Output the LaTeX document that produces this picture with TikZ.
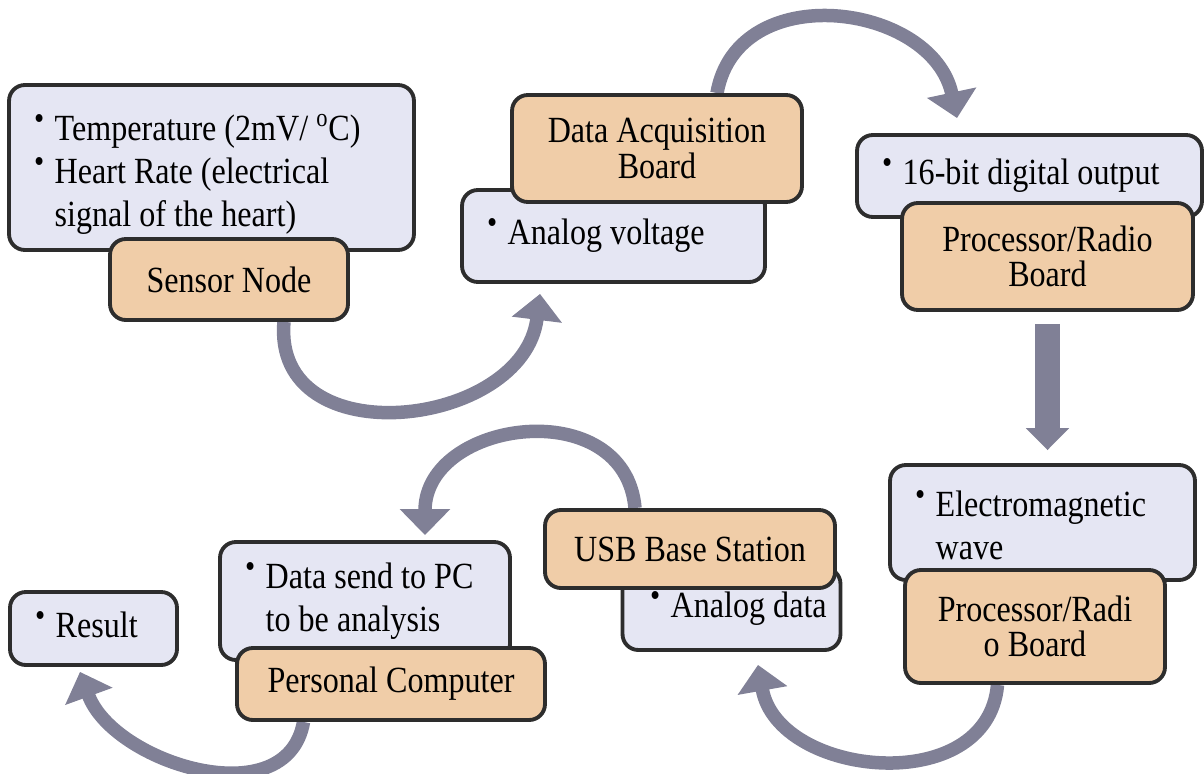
\documentclass[tikz,border=0pt]{standalone}
\usepackage{fontspec}
\setmainfont{Liberation Serif}[FakeStretch=0.87]
\usepackage{tikz}
\usetikzlibrary{positioning, arrows.meta, calc, backgrounds}

\definecolor{infoblue}{RGB}{229,230,243}
\definecolor{boardtan}{RGB}{240,205,168}
\definecolor{flowgray}{RGB}{128,128,150}
\definecolor{edgedark}{RGB}{45,45,45}

\newcommand{\bul}{\raisebox{0.3em}{\scalebox{0.9}{\textbullet}}}
\newcommand{\itemlist}[1]{{\spaceskip0pt\xspaceskip0pt\begin{tabular}{@{}l@{\hspace{6pt}}l@{}}#1\end{tabular}}}
\newcommand{\lowered}[1]{\raisebox{-4pt}[\height][\depth]{#1}}

\begin{document}
\begin{tikzpicture}[
x=0.02cm, y=0.02cm,
    infobox/.style={rectangle, draw=edgedark, line width=2.2pt, fill=infoblue, rounded corners=9pt, inner xsep=0.5cm, inner ysep=0pt, align=left, font=\fontsize{21}{24.5}\selectfont},
    board/.style={rectangle, draw=edgedark, line width=2.2pt, fill=boardtan, rounded corners=9pt, inner sep=0pt, align=center, font=\fontsize{21}{20}\selectfont},
    flow/.style={draw=flowgray, line width=0.27cm, -{Triangle[width=0.98cm, length=0.52cm]}}
]
    \useasboundingbox (0,0) rectangle (1204,-774);

    % Sensor node
    \node[infobox, text width=7.1cm, minimum height=3.3cm] (sensinfo) at (211.5,-167.5)
        {\lowered{\itemlist{\bul & Temperature (2mV/ \textsuperscript{o}C)\\ \bul & Heart Rate (electrical\\ & signal of the heart)}}};
    \node[board, minimum width=4.76cm, minimum height=1.62cm] (sensnode) at (229,-279.5) {Sensor Node};

    % Data acquisition board
    \node[infobox, text width=5.06cm, minimum height=1.84cm] (daqinfo) at (613.5,-236)
        {\itemlist{\bul & Analog voltage}};
    \node[board, minimum width=5.8cm, minimum height=2.14cm] (daqboard) at (657,-148.5) {Data Acquisition\\ Board};

    % Processor/radio board (sender)
    \node[infobox, text width=5.9cm, minimum height=1.64cm] (procinfo) at (1029.5,-176)
        {\itemlist{\bul & 16-bit digital output}};
    \node[board, minimum width=5.82cm, minimum height=2.14cm] (procboard) at (1047.5,-256.5) {Processor/Radio\\ Board};

    % Processor/radio board (receiver)
    \node[infobox, text width=5.1cm, minimum height=2.3cm] (emwinfo) at (1042.5,-522.5)
        {\lowered{\itemlist{\bul & Electromagnetic\\ & wave}}};
    \node[board, minimum width=5.2cm, minimum height=2.26cm] (radioboard) at (1035,-626.5) {Processor/Radi\\ o Board};

    % USB base station
    \node[infobox, text width=3.26cm, inner xsep=0.55cm, minimum height=1.64cm] (usbinfo) at (731.5,-609)
        {\itemlist{\bul & Analog data}};
    \node[board, minimum width=5.8cm, minimum height=1.56cm] (usbboard) at (690,-549) {USB Base Station};

    % Personal computer
    \node[infobox, text width=4.8cm, minimum height=2.36cm] (pcinfo) at (365,-601)
        {\itemlist{\bul & Data send to PC\\ & to be analysis}};
    \node[board, minimum width=6.16cm, minimum height=1.44cm] (pcboard) at (391,-684) {Personal Computer};

    % Result
    \node[infobox, text width=2.34cm, minimum height=1.46cm] (result) at (93.5,-628.5)
        {\itemlist{\bul & Result}};

    % Flow arrows
    \begin{scope}[on background layer]
    \draw[flow] ([xshift=1.1cm]sensnode.south) to[out=-95, in=-97, looseness=1.35] ([xshift=-1.47cm, yshift=-0.2cm]daqinfo.south);
    \draw[flow] ([xshift=1.2cm]daqboard.north) to[out=80, in=102, looseness=1.25] ([xshift=-1.45cm, yshift=0.3cm]procinfo.north);
    \draw[flow, line width=0.5cm, -{Triangle[width=0.84cm, length=0.44cm]}, shorten <=0.24cm, shorten >=0.26cm] (procboard.south) -- (procboard.south |- emwinfo.north);
    \draw[flow] ([xshift=-0.75cm]radioboard.south) to[out=-95, in=-80, looseness=1.22] ([xshift=0.53cm, yshift=-0.26cm]usbinfo.south);
    \draw[flow] ([xshift=-1.1cm]usbboard.north) to[out=95, in=90, looseness=1.4] ([xshift=1.2cm, yshift=0.1cm]pcinfo.north);
    \draw[flow] ([xshift=-1.75cm]pcboard.south) to[out=-100, in=-70, looseness=1.08] ([xshift=-0.27cm, yshift=-0.1cm]result.south);
    \end{scope}
\end{tikzpicture}
\end{document}
